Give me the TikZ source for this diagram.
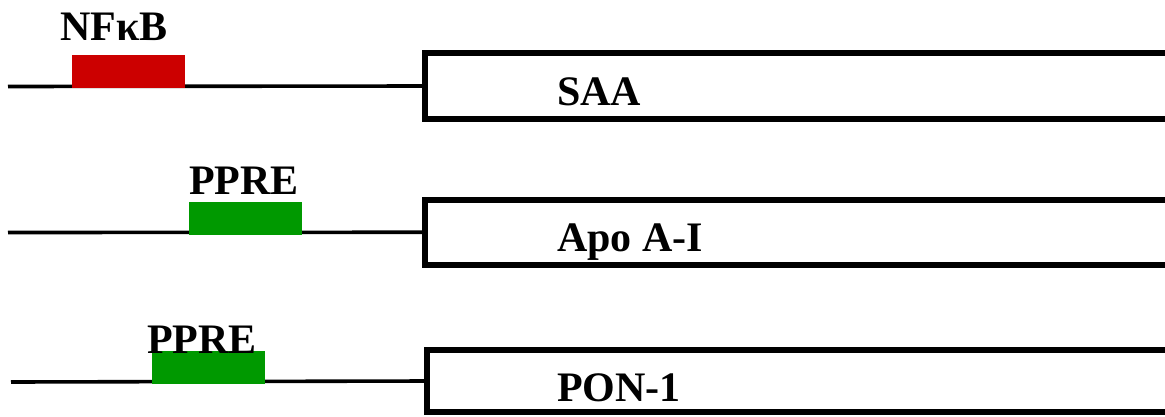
\documentclass[tikz,border=0pt]{standalone}
\usepackage{fontspec}
\setmainfont{Liberation Serif}
\usetikzlibrary{positioning}
\definecolor{nfkbcol}{RGB}{204, 0, 0}
\definecolor{pprecol}{RGB}{0, 153, 0}
\tikzset{
  dna/.style  = {draw=black, line width=3.6pt},
  gene/.style = {draw=black, line width=6pt, fill=white, rectangle,
                 anchor=north west, outer sep=0pt, inner sep=0pt,
                 minimum width=800pt},
  site/.style = {rectangle, anchor=south west, inner sep=0pt, outer sep=0pt,
                 minimum width=113pt, minimum height=33pt},
  nfkb/.style = {site, fill=nfkbcol},
  ppre/.style = {site, fill=pprecol},
  tag/.style  = {font=\bfseries\fontsize{42}{46}\selectfont, inner sep=0pt,
                 anchor=base west},
}
\begin{document}
\begin{tikzpicture}[x=1pt, y=-1pt]
  \useasboundingbox (0,0) rectangle (1165,416);

  %% ---------------- SAA ----------------
  \coordinate (p1) at (8,86.5);
  \node[gene, minimum height=66pt] (saa) at (424.5,53) {};
  \draw[dna] (p1) -- (saa.west);
  \node[nfkb] (nfkb1) at (72,87.5) {};
  \node[tag] (nfkb1lbl) at (60,40) {NFκB};
  \node[tag] (saalbl) at (557,105) {SAA};

  %% ---------------- Apo A-I ----------------
  \coordinate (p2) at (8,232.5);
  \node[gene, minimum height=64.5pt] (apoa) at (424.5,200) {};
  \draw[dna] (p2) -- (apoa.west);
  \node[ppre] (ppre2) at (189,235) {};
  \node[tag] (ppre2lbl) at (189,194) {PPRE};
  \node[tag] (apoalbl) at (557,251) {Apo A-I};

  %% ---------------- PON-1 ----------------
  \coordinate (p3) at (11,382);
  \node[gene, minimum height=62pt] (pon) at (427,350) {};
  \draw[dna] (p3) -- (pon.west);
  \node[ppre] (ppre3) at (152,383.5) {};
  \node[tag] (ppre3lbl) at (147,353) {PPRE};
  \node[tag] (ponlbl) at (557,401) {PON-1};

\end{tikzpicture}
\end{document}
